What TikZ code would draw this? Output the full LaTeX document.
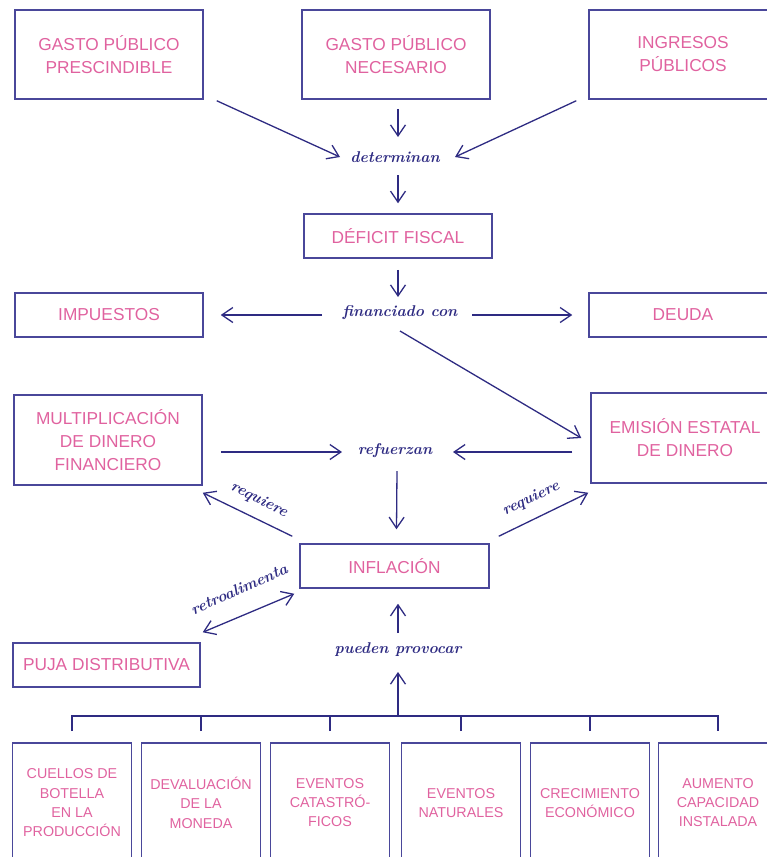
\documentclass[tikz,border=0pt]{standalone}
\usepackage{fontspec}
\newfontfamily\boxfont{Liberation Sans}
\usetikzlibrary{arrows.meta,calc}
\definecolor{ink}{HTML}{2E2B82}
\definecolor{frame}{HTML}{4A479A}
\definecolor{rosa}{HTML}{E0629F}
\begin{document}
\begin{tikzpicture}[x=1pt,y=-1pt,
  box/.style={draw=frame, line width=1.5pt, text=rosa, align=center, inner sep=0pt,
    font=\boxfont\fontsize{17.3}{23}\selectfont},
  wide/.style={box, minimum width=188, minimum height=89},
  flat/.style={box, minimum width=188, minimum height=44},
  leaf/.style={box, minimum width=119, minimum height=120, anchor=north,
    font=\boxfont\fontsize{14.3}{19.3}\selectfont},
  lbl/.style={text=ink, inner sep=1pt, font=\bfseries\itshape\fontsize{15.6}{18}\selectfont},
  ln/.style={draw=ink, line width=1.3pt},
  arr/.style={ln, -{Straight Barb[length=11pt,width=15pt]}},
  darr/.style={ln, {Straight Barb[length=11pt,width=15pt]}-{Straight Barb[length=11pt,width=15pt]}}]
\useasboundingbox (0,0) rectangle (767,857);
\clip (0,0) rectangle (767,857);

% boxes
\node[wide] (gpp) at (109,54.5) {GASTO PÚBLICO\\PRESCINDIBLE};
\node[wide] (gpn) at (396,54.5) {GASTO PÚBLICO\\NECESARIO};
\node[wide] (ing) at (683,54.5) {INGRESOS\\PÚBLICOS};
\node[flat] (def) at (398,236) {DÉFICIT FISCAL};
\node[flat] (imp) at (109,315) {IMPUESTOS};
\node[flat] (deu) at (683,315) {DEUDA};
\node[wide, minimum height=90] (mul) at (108,440) {MULTIPLICACIÓN\\DE DINERO\\FINANCIERO};
\node[wide, minimum height=90] (emi) at (685,438) {EMISIÓN ESTATAL\\DE DINERO};
\node[flat, minimum width=189] (inf) at (394.5,566) {INFLACIÓN};
\node[flat, minimum width=187] (puja) at (106.5,665) {PUJA DISTRIBUTIVA};

\node[leaf] (b1) at (72,742) {CUELLOS DE\\BOTELLA\\EN LA\\PRODUCCIÓN};
\node[leaf] (b2) at (201,742) {DEVALUACIÓN\\DE LA\\MONEDA};
\node[leaf] (b3) at (330,742) {EVENTOS\\CATASTRÓ-\\FICOS};
\node[leaf] (b4) at (461,742) {EVENTOS\\NATURALES};
\node[leaf] (b5) at (590,742) {CRECIMIENTO\\ECONÓMICO};
\node[leaf] (b6) at (718,742) {AUMENTO\\CAPACIDAD\\INSTALADA};

% labels
\node[lbl] (det) at (395,157) {determinan};
\node[lbl] (fin) at (400,313) {financiado con};
\node[lbl] (ref) at (395,451) {refuerzan};
\node[lbl] (pue) at (398,650) {pueden provocar};
\node[lbl, rotate=-26] (rql) at (259,500) {requiere};
\node[lbl, rotate=26] (rqr) at (531,499) {requiere};
\node[lbl, rotate=24] (ret) at (239,589) {retroalimenta};

% connectors
\draw[arr] ($(gpp.south east)+(13,1)$) -- ($(det)+(-55,0)$);
\draw[arr] ($(gpn.south)+(2,9)$) -- ($(det)+(3,-20)$);
\draw[arr] ($(ing.south west)+(-12,1)$) -- ($(det)+(60,0)$);
\draw[arr] ($(det)+(3,18)$) -- ($(def.north)+(0,-10)$);
\draw[arr] ($(def.south)+(0,11)$) -- ($(fin)+(-2,-16)$);
\draw[arr] ($(fin)+(-78,2)$) -- ($(imp.east)+(17,0)$);
\draw[arr] ($(fin)+(72,2)$) -- ($(deu.west)+(-16,0)$);
\draw[arr] ($(fin)+(0,18)$) -- ($(emi.west)+(-9,0)$);
\draw[arr] ($(mul.east)+(18,12)$) -- ($(ref)+(-53,1)$);
\draw[arr] ($(emi.west)+(-18,14)$) -- ($(ref)+(58,1)$);
\draw[arr] ($(ref)+(2,20)$) -- ($(inf.north)+(2,-14)$);
\draw[arr] ($(inf.north west)+(-7,-7)$) -- ($(mul.south east)+(0,7)$);
\draw[arr] ($(inf.north east)+(9,-7)$) -- ($(emi.south west)+(-2,9)$);
\draw[darr] ($(puja.north east)+(2,-10)$) -- ($(inf.south west)+(-5,5)$);
\draw[arr] ($(pue)+(0,-17)$) -- ($(inf.south)+(3.5,15)$);

% tree
\coordinate (hub) at (398,716);
\draw[arr] (hub) -- ($(pue)+(0,22)$);
\draw[ln] ($(b1.north)+(0,-11)$) -- ($(b1.north)+(0,-26)$) -- ($(b6.north)+(0,-26)$) -- ($(b6.north)+(0,-11)$);
\foreach \b in {b2,b3,b4,b5}
  \draw[ln] ($(\b.north)+(0,-11)$) -- ($(\b.north)+(0,-26)$);
\end{tikzpicture}
\end{document}
